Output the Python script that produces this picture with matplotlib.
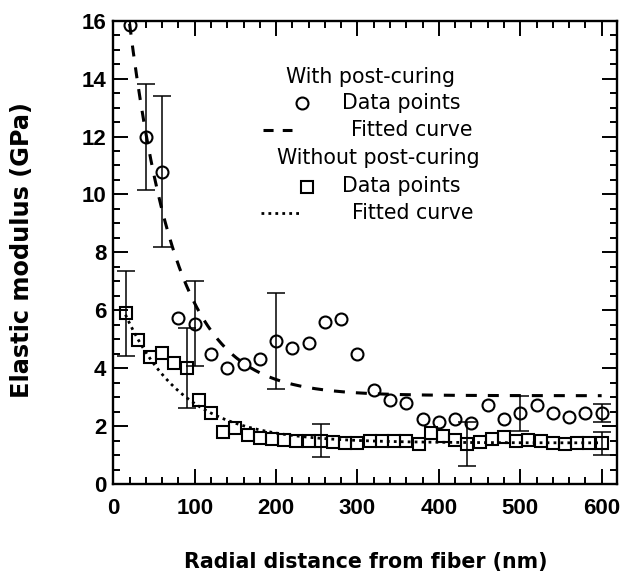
import numpy as np
import matplotlib
matplotlib.use("Agg")
import matplotlib.pyplot as plt
from matplotlib.lines import Line2D
from matplotlib.ticker import MultipleLocator

# --- data -----------------------------------------------------------------
# With post-curing (circles), every 20 nm
post_x = [20, 40, 60, 80, 100, 120, 140, 160, 180, 200, 220, 240, 260, 280, 300,
          320, 340, 360, 380, 400, 420, 440, 460, 480, 500, 520, 540, 560, 580, 600]
post_y = [15.85, 12.0, 10.78, 5.72, 5.54, 4.50, 4.02, 4.16, 4.30, 4.94, 4.69, 4.86,
          5.61, 5.69, 4.49, 3.23, 2.89, 2.81, 2.24, 2.13, 2.23, 2.10, 2.73, 2.23,
          2.44, 2.73, 2.44, 2.30, 2.44, 2.45]
post_err = [0, 1.83, 2.61, 0, 1.46, 0, 0, 0, 0, 1.66, 0, 0, 0, 0, 0,
            0, 0, 0, 0, 0, 0, 0, 0, 0, 0.60, 0, 0, 0, 0, 0.30]

# Without post-curing (squares), every 15 nm
nopost_x = [15, 30, 45, 60, 75, 90, 105, 120, 135, 150, 165, 180, 195, 210, 225,
            240, 255, 270, 285, 300, 315, 330, 345, 360, 375, 390, 405, 420, 435,
            450, 465, 480, 495, 510, 525, 540, 555, 570, 585, 600]
nopost_y = [5.90, 4.97, 4.40, 4.51, 4.19, 4.00, 2.90, 2.44, 1.81, 1.92, 1.69, 1.60,
            1.56, 1.52, 1.49, 1.50, 1.50, 1.46, 1.43, 1.43, 1.50, 1.50, 1.48, 1.48,
            1.37, 1.76, 1.66, 1.52, 1.38, 1.46, 1.55, 1.62, 1.49, 1.52, 1.48, 1.40,
            1.38, 1.43, 1.40, 1.40]
nopost_err = [1.47, 0, 0, 0, 0, 1.38, 0, 0, 0, 0, 0, 0, 0, 0, 0,
              0, 0.57, 0, 0, 0, 0, 0, 0, 0, 0, 0, 0, 0, 0.76,
              0, 0, 0, 0, 0, 0, 0, 0, 0, 0, 0.39]

# Exponential decay fits: E(r) = E_inf + A * exp(-r / L)
post_fit = dict(E_inf=3.05, A=18.2, L=57.4, r0=20, r1=600)
nopost_fit = dict(E_inf=1.42, A=5.45, L=72.0, r0=15, r1=600)

x_ticks = [0, 100, 200, 300, 400, 500, 600]
y_ticks = [0, 2, 4, 6, 8, 10, 12, 14, 16]


def fit_curve(p):
    r = np.linspace(p["r0"], p["r1"], 400)
    return r, p["E_inf"] + p["A"] * np.exp(-r / p["L"])


# --- figure ---------------------------------------------------------------
W, H = 622, 576
fig = plt.figure(figsize=(W / 100, H / 100), dpi=100)
ax = fig.add_axes([113.3 / W, (H - 484) / H, (616.7 - 113.3) / W, (484 - 20.7) / H])

tick_font = dict(family="Liberation Sans", weight="bold", size=16)
ylabel_font = dict(family="DejaVu Sans", weight="bold", size=17.3)
xlabel_font = dict(family="DejaVu Sans", weight="bold", size=14.8)
leg_font = dict(family="DejaVu Sans", size=14.8)

mk = dict(linestyle="none", markersize=8.6, markeredgewidth=1.5,
          markerfacecolor="none", markeredgecolor="black")
eb = dict(fmt="none", ecolor="black", elinewidth=1.1, capsize=6.5, capthick=1.1)

# fitted curves
rx, ry = fit_curve(post_fit)
ax.plot(rx, ry, color="black", lw=2.2, linestyle=(0, (3.6, 3.6)))
rx, ry = fit_curve(nopost_fit)
ax.plot(rx, ry, color="black", lw=2.0, linestyle=(0, (1.0, 1.5)))

# error bars (only where a deviation was reported)
px, py, pe = np.array(post_x), np.array(post_y), np.array(post_err)
m = pe > 0
ax.errorbar(px[m], py[m], yerr=pe[m], **eb)
nx, ny, ne = np.array(nopost_x), np.array(nopost_y), np.array(nopost_err)
m = ne > 0
ax.errorbar(nx[m], ny[m], yerr=ne[m], **eb)

# data points
ax.plot(post_x, post_y, marker="o", **mk)
ax.plot(nopost_x, nopost_y, marker="s", **mk)

ax.set_xlim(0, 618.5)
ax.set_ylim(0, 16)
ax.set_xticks(x_ticks)
ax.set_yticks(y_ticks)
ax.xaxis.set_minor_locator(MultipleLocator(20))
ax.yaxis.set_minor_locator(MultipleLocator(0.5))
ax.tick_params(which="both", direction="in", top=True, right=True, width=1.4)
ax.tick_params(which="major", length=10.5)
ax.tick_params(which="minor", length=5.2)
ax.tick_params(axis="x", which="major", pad=10)
ax.tick_params(axis="y", which="major", pad=5)
for lab in ax.get_xticklabels() + ax.get_yticklabels():
    lab.set_fontfamily(tick_font["family"])
    lab.set_fontweight(tick_font["weight"])
    lab.set_fontsize(tick_font["size"])
for s in ax.spines.values():
    s.set_linewidth(1.7)

fig.text(22 / W, 1 - 250 / H, "Elastic modulus (GPa)", rotation=90,
         ha="center", va="center", **ylabel_font)
fig.text(366 / W, 1 - 562 / H, "Radial distance from fiber (nm)",
         ha="center", va="center", **xlabel_font)


# --- legend built by hand -------------------------------------------------
def fx(x):
    return x / W


def fy(y):
    return 1 - y / H


fig.text(fx(286), fy(77), "With post-curing", va="center", ha="left", **leg_font)
fig.add_artist(Line2D([fx(302)], [fy(103)], marker="o", transform=fig.transFigure, **mk))
fig.text(fx(342), fy(103), "Data points", va="center", ha="left", **leg_font)
fig.add_artist(Line2D([fx(262.5), fx(292)], [fy(130), fy(130)], transform=fig.transFigure,
                      color="black", lw=2.2, linestyle=(0, (3.3, 3.0))))
fig.text(fx(351), fy(130), "Fitted curve", va="center", ha="left", **leg_font)
fig.text(fx(277), fy(158), "Without post-curing", va="center", ha="left", **leg_font)
fig.add_artist(Line2D([fx(306.5)], [fy(186.5)], marker="s", transform=fig.transFigure, **mk))
fig.text(fx(342), fy(186.5), "Data points", va="center", ha="left", **leg_font)
fig.add_artist(Line2D([fx(261), fx(299)], [fy(213), fy(213)], transform=fig.transFigure,
                      color="black", lw=2.0, linestyle=(0, (1.0, 1.5))))
fig.text(fx(352), fy(213), "Fitted curve", va="center", ha="left", **leg_font)

fig.savefig("out.png", dpi=100)
